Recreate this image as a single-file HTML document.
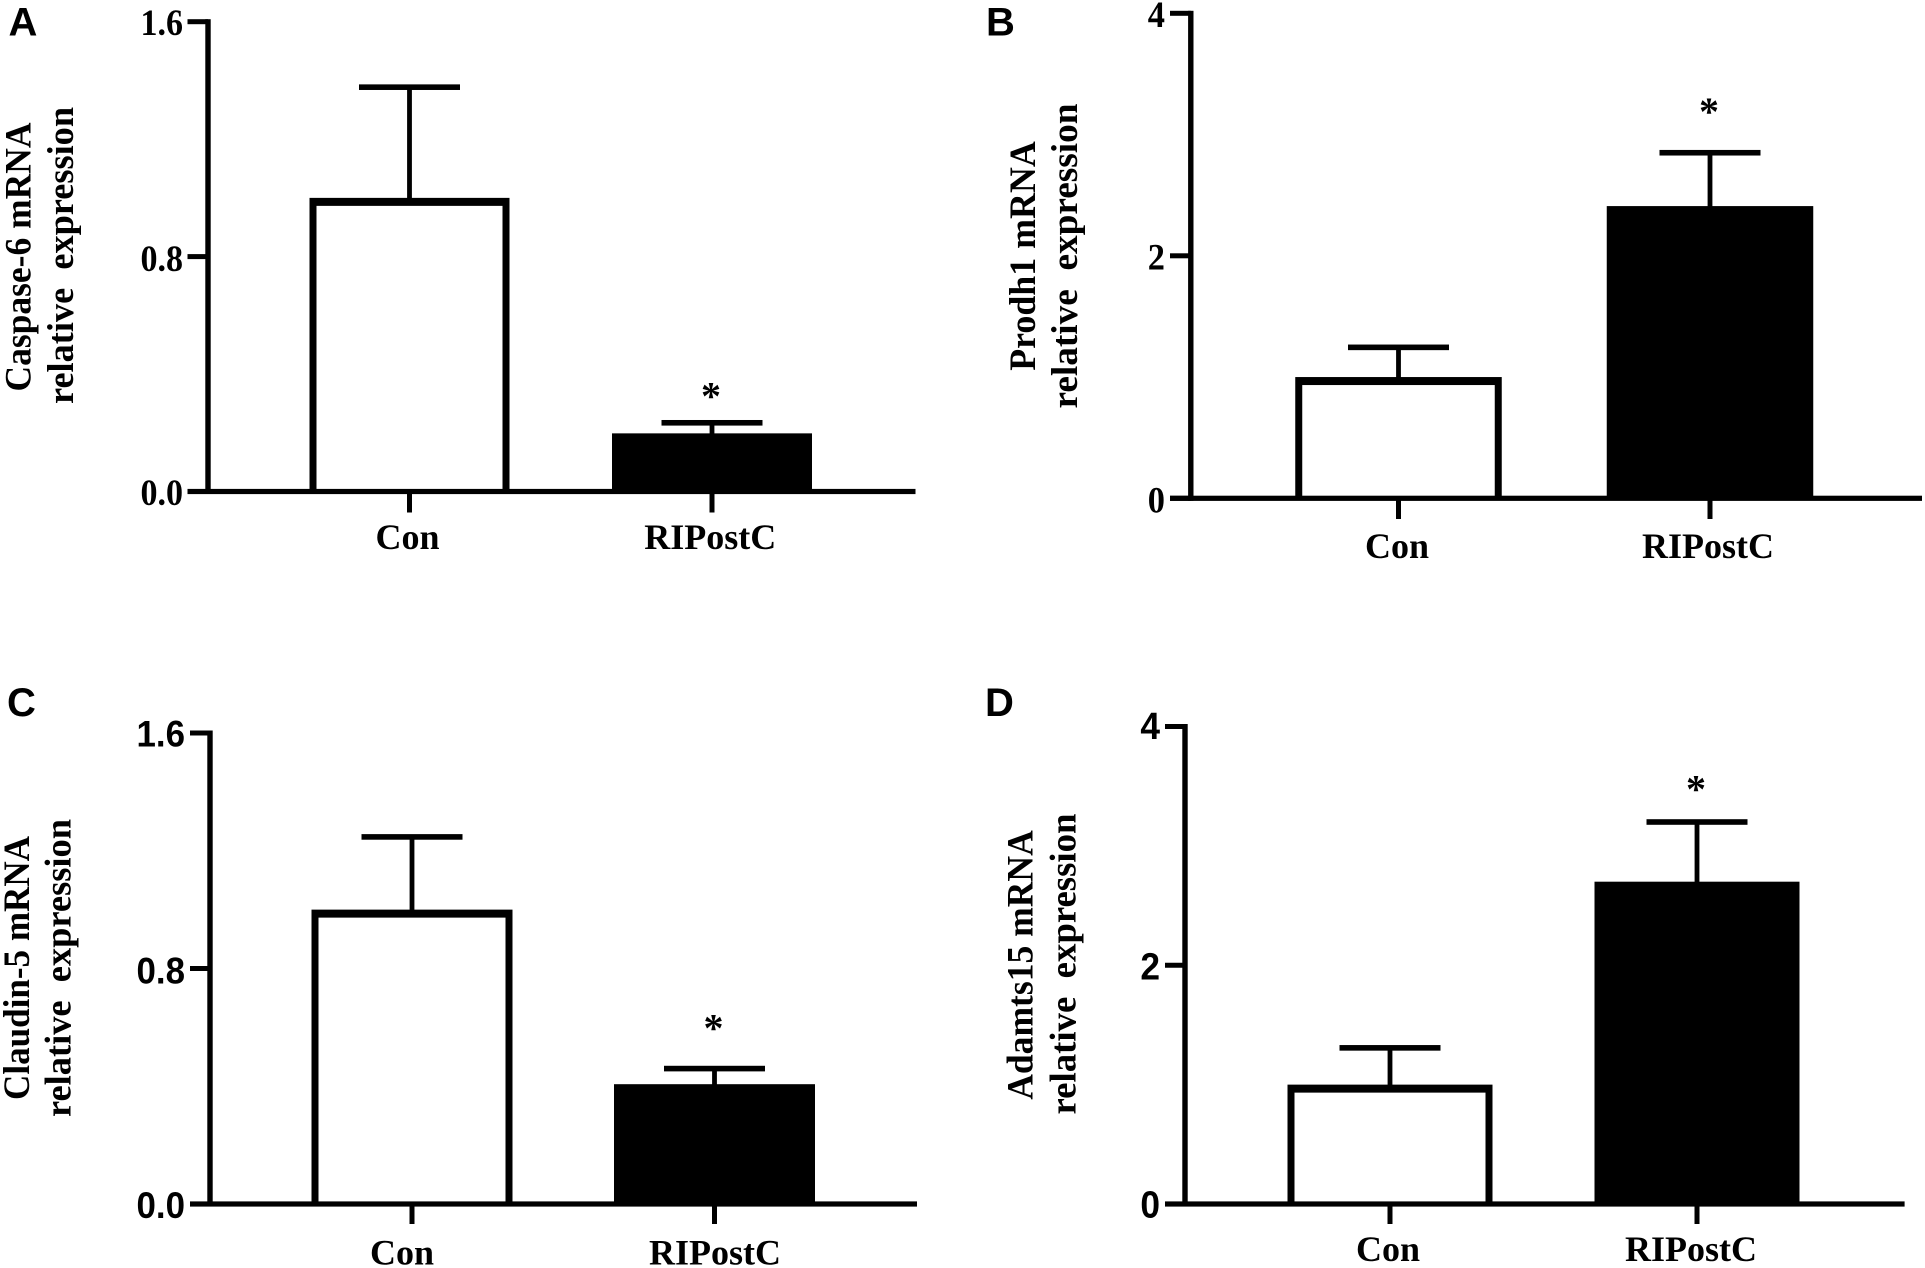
<!DOCTYPE html>
<html lang="en">
<head>
<meta charset="utf-8">
<title>RIPostC mRNA relative expression</title>
<style>
html,body{margin:0;padding:0;background:#fff;}
svg{display:block;}
text{fill:#000;white-space:pre;}
.serif{font-family:"Liberation Serif",serif;font-weight:bold;}
.sans{font-family:"Liberation Sans",sans-serif;font-weight:bold;}
</style>
</head>
<body>
<svg id="figure" xmlns="http://www.w3.org/2000/svg" width="1925" height="1268" viewBox="0 0 1925 1268"></svg>
<script>
const categories = ["Con", "RIPostC"];

const caspaseMeans = [1.0, 0.198];
const caspaseErrors = [0.377, 0.036];
const caspaseTicks = ["0.0", "0.8", "1.6"];

const prodhMeans = [1.0, 2.41];
const prodhErrors = [0.245, 0.44];
const prodhTicks = ["0", "2", "4"];

const claudinMeans = [1.0, 0.407];
const claudinErrors = [0.247, 0.053];
const claudinTicks = ["0.0", "0.8", "1.6"];

const adamtsMeans = [1.0, 2.70];
const adamtsErrors = [0.308, 0.50];
const adamtsTicks = ["0", "2", "4"];

const SVG_NS = "http://www.w3.org/2000/svg";
const figure = document.getElementById("figure");

function shape(tag, attrs) {
  const el = document.createElementNS(SVG_NS, tag);
  for (const k in attrs) el.setAttribute(k, attrs[k]);
  figure.appendChild(el);
  return el;
}

function label(content, cls, attrs) {
  const el = shape("text", Object.assign({ "class": cls }, attrs));
  el.textContent = content;
  return el;
}

function drawPanel(p) {
  const axisMax = parseFloat(p.ticks[p.ticks.length - 1]);
  const yScale = v => p.zeroY - (v / axisMax) * (p.zeroY - p.topY);
  const xScale = i => p.firstX + i * p.stepX;

  // bars, error bars, significance star
  categories.forEach((cat, i) => {
    const cx = xScale(i);
    const top = yScale(p.means[i]);
    const errTop = yScale(p.means[i] + p.errors[i]);

    const stem = shape("rect", { x: cx - 2.4, y: errTop, width: 4.8, height: top - errTop + 1, fill: "#000" });
    
    

    const cap = shape("rect", { x: cx - 50.5, y: errTop - 2.8, width: 101, height: 5.6, fill: "#000" });
    
    

    const bar = shape("rect", { x: cx - p.barW / 2, y: top, width: p.barW, height: p.zeroY - top, fill: "#000" });
    
    

    if (i === 0) {
      const inner = shape("rect", { x: cx - p.barW / 2 + 7, y: top + 8, width: p.barW - 14, height: p.zeroY - top - 8, fill: "#fff" });
      
      
    } else {
      const star = label("*", "serif", { x: cx - 1, y: errTop - p.starGap, "font-size": 40, "text-anchor": "middle" });
      
      
    }

    const xTick = shape("rect", { x: cx - 2.5, y: p.zeroY, width: 5, height: p.tickEnd - p.zeroY, fill: "#000" });
    
    

    const xLabel = label(cat, "serif", { x: p.labelX[i], y: p.labelY, "font-size": 36, "text-anchor": "middle" });
    
    
  });

  // y axis
  const yAxis = shape("rect", { x: p.axisX - 2.7, y: p.topY - 2.5, width: 5.4, height: p.zeroY - p.topY + 5, fill: "#000" });
  
  

  // x axis
  const xAxis = shape("rect", { x: p.tickLeft, y: p.zeroY - 2.6, width: p.axisRight - p.tickLeft, height: 5.2, fill: "#000" });
  
  

  // y ticks and labels
  p.ticks.forEach((t, i) => {
    const y = yScale(parseFloat(t));
    const tick = shape("rect", { x: p.tickLeft, y: y - 2.5, width: p.axisX - p.tickLeft, height: 5, fill: "#000" });
    
    

    const tickLabel = label(t, p.tickClass, {
      transform: "translate(" + p.tickLabelX + " " + (y + p.tickLabelDy[i]) + ") scale(" + p.tickScaleX + " 1)",
      "font-size": p.tickSize, "text-anchor": "end"
    });
    
    
  });

  // y axis title (two rotated lines)
  const t1 = label(p.title1, "serif", {
    transform: "translate(" + p.title1X + " " + p.title1Mid + ") rotate(-90)",
    "font-size": 37, "text-anchor": "middle", textLength: p.title1Len, lengthAdjust: "spacingAndGlyphs"
  });
  
  

  const t2 = label("relative  expression", "serif", {
    transform: "translate(" + p.title2X + " " + p.title2Mid + ") rotate(-90)",
    "font-size": 37, "text-anchor": "middle", textLength: p.title2Len, lengthAdjust: "spacingAndGlyphs"
  });
  
  

  // panel letter
  const letter = label(p.letter, "sans", { x: p.letterX, y: p.letterY, "font-size": 40 });
  
  
}

drawPanel({
  key: "panel-a", letter: "A", letterX: 8.5, letterY: 35.5,
  means: caspaseMeans, errors: caspaseErrors, ticks: caspaseTicks,
  axisX: 208, tickLeft: 187.5, axisRight: 915.5, topY: 21.7, zeroY: 491.5, tickEnd: 512.5,
  firstX: 409.5, stepX: 302.5, barW: 200, starGap: 13.2,
  labelX: [407.5, 710.3], labelY: 549,
  tickClass: "serif", tickSize: 37, tickScaleX: 0.92, tickLabelX: 183, tickLabelDy: [13.5, 14.5, 13.5],
  title1: "Caspase-6 mRNA", title1X: 30.5, title1Mid: 257, title1Len: 269,
  title2X: 73, title2Mid: 255.5, title2Len: 297
});

drawPanel({
  key: "panel-b", letter: "B", letterX: 986, letterY: 35.5,
  means: prodhMeans, errors: prodhErrors, ticks: prodhTicks,
  axisX: 1190.8, tickLeft: 1170, axisRight: 1922, topY: 13.3, zeroY: 498.3, tickEnd: 519,
  firstX: 1398.5, stepX: 311.5, barW: 206.5, starGap: 27.5,
  labelX: [1397, 1708], labelY: 558,
  tickClass: "serif", tickSize: 37, tickScaleX: 0.93, tickLabelX: 1165, tickLabelDy: [14, 13.5, 13.5],
  title1: "Prodh1 mRNA", title1X: 1035, title1Mid: 256, title1Len: 229.5,
  title2X: 1077, title2Mid: 256, title2Len: 305
});

drawPanel({
  key: "panel-c", letter: "C", letterX: 7, letterY: 716,
  means: claudinMeans, errors: claudinErrors, ticks: claudinTicks,
  axisX: 210, tickLeft: 190, axisRight: 917, topY: 733, zeroY: 1204, tickEnd: 1224,
  firstX: 412, stepX: 302.5, barW: 201, starGap: 27.3,
  labelX: [402, 715], labelY: 1264.5,
  tickClass: "sans", tickSize: 37.5, tickScaleX: 0.93, tickLabelX: 185, tickLabelDy: [14, 15, 13.5],
  title1: "Claudin-5 mRNA", title1X: 29, title1Mid: 968, title1Len: 264,
  title2X: 70.5, title2Mid: 968, title2Len: 298
});

drawPanel({
  key: "panel-d", letter: "D", letterX: 985, letterY: 716,
  means: adamtsMeans, errors: adamtsErrors, ticks: adamtsTicks,
  axisX: 1185, tickLeft: 1165, axisRight: 1904.6, topY: 726.5, zeroY: 1204, tickEnd: 1224,
  firstX: 1390, stepX: 307, barW: 205, starGap: 19.5,
  labelX: [1388, 1691], labelY: 1261,
  tickClass: "sans", tickSize: 38, tickScaleX: 0.93, tickLabelX: 1160, tickLabelDy: [13.5, 14, 12.5],
  title1: "Adamts15 mRNA", title1X: 1032.5, title1Mid: 965, title1Len: 269.5,
  title2X: 1075.5, title2Mid: 964, title2Len: 301
});
</script>
</body>
</html>
